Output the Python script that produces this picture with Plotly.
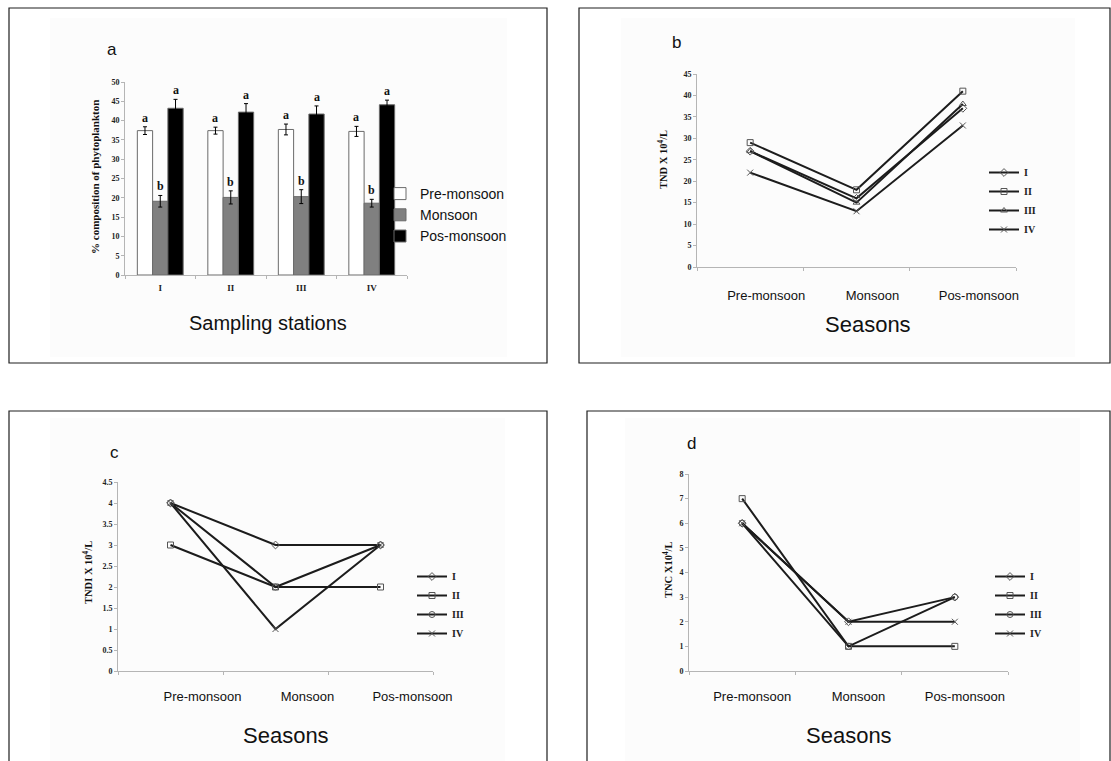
import plotly.graph_objects as go

W, H = 1111, 761


def fx(p):
    return p / W


def fy(p):
    return 1 - p / H


# ---------------- data ----------------
stations = ["I", "II", "III", "IV"]
pre_vals = [37.4, 37.4, 37.7, 37.2]
pre_err = [1.0, 0.9, 1.4, 1.3]
mon_vals = [19.1, 20.1, 20.3, 18.6]
mon_err = [1.5, 1.7, 1.8, 1.0]
pos_vals = [43.2, 42.2, 41.7, 44.1]
pos_err = [2.3, 2.2, 2.1, 1.2]
pre_sig = ["a", "a", "a", "a"]
mon_sig = ["b", "b", "b", "b"]
pos_sig = ["a", "a", "a", "a"]

seasons = ["Pre-monsoon", "Monsoon", "Pos-monsoon"]
series_names = ["I", "II", "III", "IV"]

tnd_I = [27, 16, 37]
tnd_II = [29, 18, 41]
tnd_III = [27, 15, 38]
tnd_IV = [22, 13, 33]

tndi_I = [4, 3, 3]
tndi_II = [3, 2, 2]
tndi_III = [4, 2, 3]
tndi_IV = [4, 1, 3]

tnc_I = [6, 2, 3]
tnc_II = [7, 1, 1]
tnc_III = [6, 1, 3]
tnc_IV = [6, 2, 2]

# ---------------- styles ----------------
SANS = "Liberation Sans"
SERIF = "Liberation Serif"
AXC = "#b5b5b5"

fig = go.Figure()

# Panel a: bars
bar_specs = [
    ("Pre-monsoon", pre_vals, pre_err, "white"),
    ("Monsoon", mon_vals, mon_err, "#808080"),
    ("Pos-monsoon", pos_vals, pos_err, "black"),
]
for name, vals, errs, col in bar_specs:
    fig.add_trace(go.Bar(
        x=stations, y=vals, name=name, xaxis="x", yaxis="y",
        marker=dict(color=col, line=dict(color="#6a6a6a", width=1)),
        error_y=dict(type="data", array=errs, color="black", thickness=1, width=2),
        legend="legend",
    ))

# Line panels
sym_b = ["diamond-open", "square-open", "triangle-up-open", "x-thin-open"]
sym_cd = ["diamond-open", "square-open", "circle-open", "x-thin-open"]
panels = [
    ("x2", "y2", "legend2", [tnd_I, tnd_II, tnd_III, tnd_IV], sym_b),
    ("x3", "y3", "legend3", [tndi_I, tndi_II, tndi_III, tndi_IV], sym_cd),
    ("x4", "y4", "legend4", [tnc_I, tnc_II, tnc_III, tnc_IV], sym_cd),
]
for xa, ya, lg, data, syms in panels:
    for nm, vals, sym in zip(series_names, data, syms):
        fig.add_trace(go.Scatter(
            x=seasons, y=vals, name=nm, xaxis=xa, yaxis=ya, legend=lg,
            mode="lines+markers",
            line=dict(color="#1c1c1c", width=2),
            marker=dict(symbol=sym, size=6, color="#555555",
                        line=dict(color="#555555", width=1)),
        ))

tickfont = dict(family=SERIF, size=8, color="#222222", weight="bold")


def yax(domain, rng, dtick):
    return dict(domain=domain, range=rng, dtick=dtick, showline=True, linecolor=AXC,
                linewidth=1, ticks="outside", ticklen=3, tickcolor=AXC, showgrid=False,
                zeroline=False, tickfont=tickfont, fixedrange=True, automargin=False)


def xax(domain, anchor, n, shift, standoff, font):
    return dict(domain=domain, anchor=anchor, type="category", showline=True,
                range=[-0.5, n - 0.5],
                linecolor=AXC, linewidth=1, ticks="outside", ticklen=3, tickcolor=AXC,
                tickson="boundaries", showgrid=False, zeroline=False, tickfont=font,
                ticklabelshift=shift, ticklabelstandoff=standoff, automargin=False,
                fixedrange=True)


season_font = dict(family=SANS, size=13, color="#111111")
leg_font = dict(family=SERIF, size=10, color="#222222", weight="bold")

fig.update_layout(
    width=W, height=H,
    margin=dict(l=0, r=0, t=0, b=0, pad=0, autoexpand=False),
    paper_bgcolor="white", plot_bgcolor="rgba(0,0,0,0)",
    barmode="group", bargap=0.35, bargroupgap=0,
    xaxis=xax([fx(125), fx(407)], "y", len(stations), 0, 4,
              dict(family=SERIF, size=9, color="#222222", weight="bold")),
    yaxis=dict(anchor="x", **yax([fy(275), fy(82)], [0, 50], 5)),
    xaxis2=xax([fx(697), fx(1016)], "y2", len(seasons), 16, 16, season_font),
    yaxis2=dict(anchor="x2", **yax([fy(267), fy(74)], [0, 45], 5)),
    xaxis3=xax([fx(118), fx(433)], "y3", len(seasons), 32, 13, season_font),
    yaxis3=dict(anchor="x3", **yax([fy(671), fy(482)], [0, 4.5], 0.5)),
    xaxis4=xax([fx(689), fx(1008)], "y4", len(seasons), 10, 13, season_font),
    yaxis4=dict(anchor="x4", **yax([fy(671), fy(474)], [0, 8], 1)),
    legend=dict(x=fx(380), y=fy(178), xanchor="left", yanchor="top",
                font=dict(family=SANS, size=14, color="#111111"),
                bgcolor="rgba(0,0,0,0)", tracegroupgap=0, itemwidth=30),
    legend2=dict(x=fx(984), y=fy(158), xanchor="left", yanchor="top", font=leg_font,
                 bgcolor="rgba(0,0,0,0)", tracegroupgap=0, itemwidth=30),
    legend3=dict(x=fx(412), y=fy(562), xanchor="left", yanchor="top", font=leg_font,
                 bgcolor="rgba(0,0,0,0)", tracegroupgap=0, itemwidth=30),
    legend4=dict(x=fx(990), y=fy(562), xanchor="left", yanchor="top", font=leg_font,
                 bgcolor="rgba(0,0,0,0)", tracegroupgap=0, itemwidth=30),
    showlegend=True,
)

# Panel frames and faint inner backgrounds
shapes = []
for (x0, y0, x1, y1) in [(50, 18, 507, 357), (621, 18, 1075, 357),
                         (50, 418, 505, 770), (625, 418, 1080, 770)]:
    shapes.append(dict(type="rect", xref="paper", yref="paper",
                       x0=fx(x0), x1=fx(x1), y0=fy(y1), y1=fy(y0),
                       line=dict(width=0), fillcolor="#fcfcfc", layer="below"))
for (x0, y0, x1, y1) in [(9, 8, 547, 363), (579, 8, 1110, 363),
                         (9, 411, 547, 775), (587, 411, 1110, 775)]:
    shapes.append(dict(type="rect", xref="paper", yref="paper",
                       x0=fx(x0), x1=fx(x1), y0=fy(y1), y1=fy(y0),
                       line=dict(color="#1e1e1e", width=1.2), fillcolor="rgba(0,0,0,0)",
                       layer="above"))
fig.update_layout(shapes=shapes)

ann = []
# significance letters above bars
bar_px = 70.5 * (1 - 0.35) / 3
for vals, errs, sigs, sh in [(pre_vals, pre_err, pre_sig, -bar_px),
                             (mon_vals, mon_err, mon_sig, 0),
                             (pos_vals, pos_err, pos_sig, bar_px)]:
    for st, v, e, s in zip(stations, vals, errs, sigs):
        ann.append(dict(x=st, y=v + e, xref="x", yref="y", text=s, showarrow=False,
                        yanchor="bottom", xshift=sh, yshift=0,
                        font=dict(family=SERIF, size=12, color="#111111", weight="bold")))

# panel letters and titles
for txt, x, y, size in [("a", 112, 50, 17), ("b", 677, 43, 17), ("c", 115, 452, 17),
                        ("d", 691, 443, 17), ("Sampling stations", 268, 323, 20),
                        ("Seasons", 868, 325, 22), ("Seasons", 286, 735, 22),
                        ("Seasons", 849, 735, 22)]:
    ann.append(dict(x=fx(x), y=fy(y), xref="paper", yref="paper", text=txt,
                    showarrow=False, xanchor="center", yanchor="middle",
                    font=dict(family=SANS, size=size, color="#111111")))

# y-axis titles
for txt, x, y, size in [("% composition of phytoplankton", 95, 177, 11),
                        ("TND X 10<sup>4</sup>/L", 663, 160, 10.5),
                        ("TNDI X 10<sup>4</sup>/L", 87, 573, 10.5),
                        ("TNC X10<sup>4</sup>/L", 667, 570, 10.5)]:
    ann.append(dict(x=fx(x), y=fy(y), xref="paper", yref="paper", text=txt,
                    showarrow=False, textangle=-90, xanchor="center", yanchor="middle",
                    font=dict(family=SERIF, size=size, color="#111111", weight="bold")))

fig.update_layout(annotations=ann)

fig.write_html("out.html", config={"displayModeBar": False},
               post_script="document.body.style.margin='0';")
